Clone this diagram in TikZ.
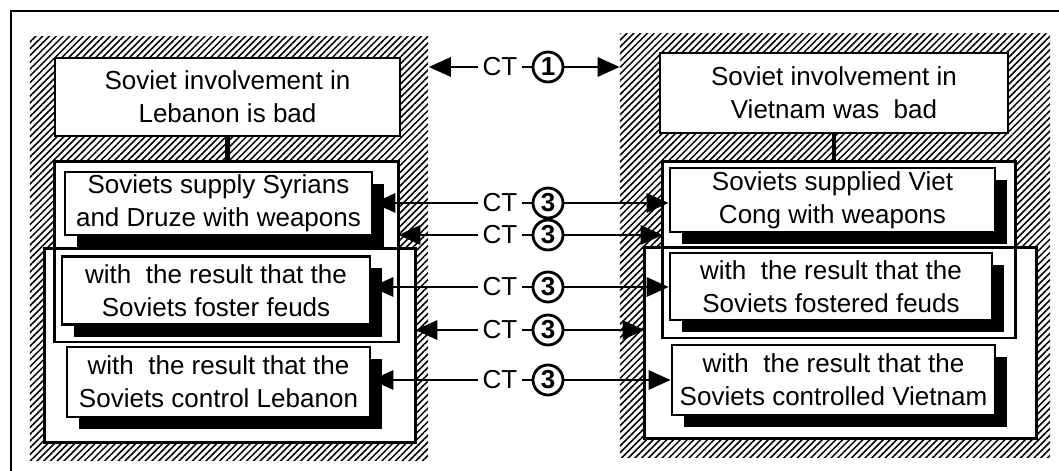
\documentclass[tikz,border=0pt]{standalone}
\usepackage{fontspec}
\setmainfont{Liberation Sans}
\usetikzlibrary{arrows.meta,positioning,shadows,patterns.meta}
\tikzset{
  hatch/.style={pattern={Lines[angle=45,distance=3.4pt,line width=1.1pt]},inner sep=0pt},
  grpfill/.style={fill=white,inner sep=0pt},
  grpline/.style={line width=1.7pt},
  topbox/.style={draw=black,fill=white,line width=1.8pt,align=center,inner sep=2pt,font=\fontsize{18.5}{23.5}\selectfont},
  claim/.style={draw=black,fill=white,line width=1.8pt,align=center,inner sep=2pt,font=\fontsize{18.5}{23.5}\selectfont,
    drop shadow={shadow xshift=.3cm,shadow yshift=-.3cm,fill=black,opacity=1}},
  ctlabel/.style={inner sep=3pt,font=\fontsize{18.5}{22}\selectfont},
  ctnum/.style={circle,draw=black,line width=2pt,inner sep=0pt,minimum size=.75cm,font=\bfseries\fontsize{18.5}{22}\selectfont},
  flow/.style={-{Triangle[length=5.5mm,width=4.8mm]},line width=1.8pt},
  link/.style={line width=1.8pt},
  stem/.style={line width=3.5pt},
  frame/.style={line width=1.5pt},
}

\begin{document}
\begin{tikzpicture}[x=0.025cm,y=-0.025cm]
  \useasboundingbox (0,0) rectangle (1059,471);
  \coordinate (ftr) at (1059,11);
  \coordinate (fbl) at (11,471);
  \draw[frame] (ftr) -| (fbl);

  % hatched backgrounds
  \node[hatch,minimum width=9.95cm,minimum height=10.58cm] (lhatch) at (229,248.5) {};
  \node[hatch,minimum width=10.75cm,minimum height=10.58cm] (rhatch) at (835,245.5) {};

  % group frames
  \node[grpfill,minimum width=8.58cm,minimum height=4.5cm] (lgrpA) at (226.5,252) {};
  \node[grpfill,minimum width=9.25cm,minimum height=4.83cm] (lgrpB) at (230,345.5) {};
  \node[grpfill,minimum width=8.8cm,minimum height=4.4cm] (rgrpA) at (839,250) {};
  \node[grpfill,minimum width=9.78cm,minimum height=4.75cm] (rgrpB) at (840.5,343) {};
  \draw[grpline] (lgrpA.south west) rectangle (lgrpA.north east);
  \draw[grpline] (lgrpB.south west) rectangle (lgrpB.north east);
  \draw[grpline] (rgrpA.south west) rectangle (rgrpA.north east);
  \draw[grpline] (rgrpB.south west) rectangle (rgrpB.north east);

  % Lebanon side
  \node[topbox,minimum width=8.63cm,minimum height=1.95cm] (ltop) at (227.5,97) {Soviet involvement in\\Lebanon is bad};
  \node[claim,minimum width=7.68cm,minimum height=1.58cm] (lsup) at (218.5,203.5) {Soviets supply Syrians\\and Druze with weapons};
  \node[claim,minimum width=7.7cm,minimum height=1.7cm] (lfos) at (216,290.5) {with\ \ the result that the\\Soviets foster feuds};
  \node[claim,minimum width=7.58cm,minimum height=1.75cm] (lcon) at (218.5,382) {with\ \ the result that the\\Soviets control Lebanon};

  % Vietnam side
  \node[topbox,minimum width=8.7cm,minimum height=2cm] (rtop) at (834,93) {Soviet involvement in\\Vietnam was\ \ bad};
  \node[claim,minimum width=8.13cm,minimum height=1.6cm] (rsup) at (832.5,200) {Soviets supplied Viet\\Cong with weapons};
  \node[claim,minimum width=8.05cm,minimum height=1.68cm] (rfos) at (831,286.5) {with\ \ the result that the\\Soviets fostered feuds};
  \node[claim,minimum width=8.08cm,minimum height=1.75cm] (rcon) at (833.5,380) {with\ \ the result that the\\Soviets controlled Vietnam};

  \draw[stem] (ltop.south) -- (ltop.south |- lgrpA.north);
  \draw[stem] (rtop.south) -- (rtop.south |- rgrpA.north);

  % correspondences
  \node[ctlabel] (ct1) at (500,67) {CT}; \node[ctnum] (c1) at (548,67) {1};
  \node[ctlabel] (ct2) at (500,203) {CT}; \node[ctnum] (c2) at (548,203) {3};
  \node[ctlabel] (ct3) at (500,235) {CT}; \node[ctnum] (c3) at (548,235) {3};
  \node[ctlabel] (ct4) at (500,287) {CT}; \node[ctnum] (c4) at (548,287) {3};
  \node[ctlabel] (ct5) at (500,330) {CT}; \node[ctnum] (c5) at (548,330) {3};
  \node[ctlabel] (ct6) at (500,380) {CT}; \node[ctnum] (c6) at (548,380) {3};

  \draw[flow] (ct1.west) -- (ct1.west -| lhatch.east); \draw[link] (ct1) -- (c1); \draw[flow] (c1.east) -- (c1.east -| rhatch.west);
  \draw[flow] (ct2.west) -- (ct2.west -| lsup.east); \draw[link] (ct2) -- (c2); \draw[flow] (c2.east) -- (c2.east -| rsup.west);
  \draw[flow] (ct3.west) -- (ct3.west -| lgrpA.east); \draw[link] (ct3) -- (c3); \draw[flow] (c3.east) -- (c3.east -| rgrpA.west);
  \draw[flow] (ct4.west) -- (ct4.west -| lfos.east); \draw[link] (ct4) -- (c4); \draw[flow] (c4.east) -- (c4.east -| rfos.west);
  \draw[flow] (ct5.west) -- (ct5.west -| lgrpB.east); \draw[link] (ct5) -- (c5); \draw[flow] (c5.east) -- (c5.east -| rgrpB.west);
  \draw[flow] (ct6.west) -- (ct6.west -| lcon.east); \draw[link] (ct6) -- (c6); \draw[flow] (c6.east) -- (c6.east -| rcon.west);
\end{tikzpicture}
\end{document}
